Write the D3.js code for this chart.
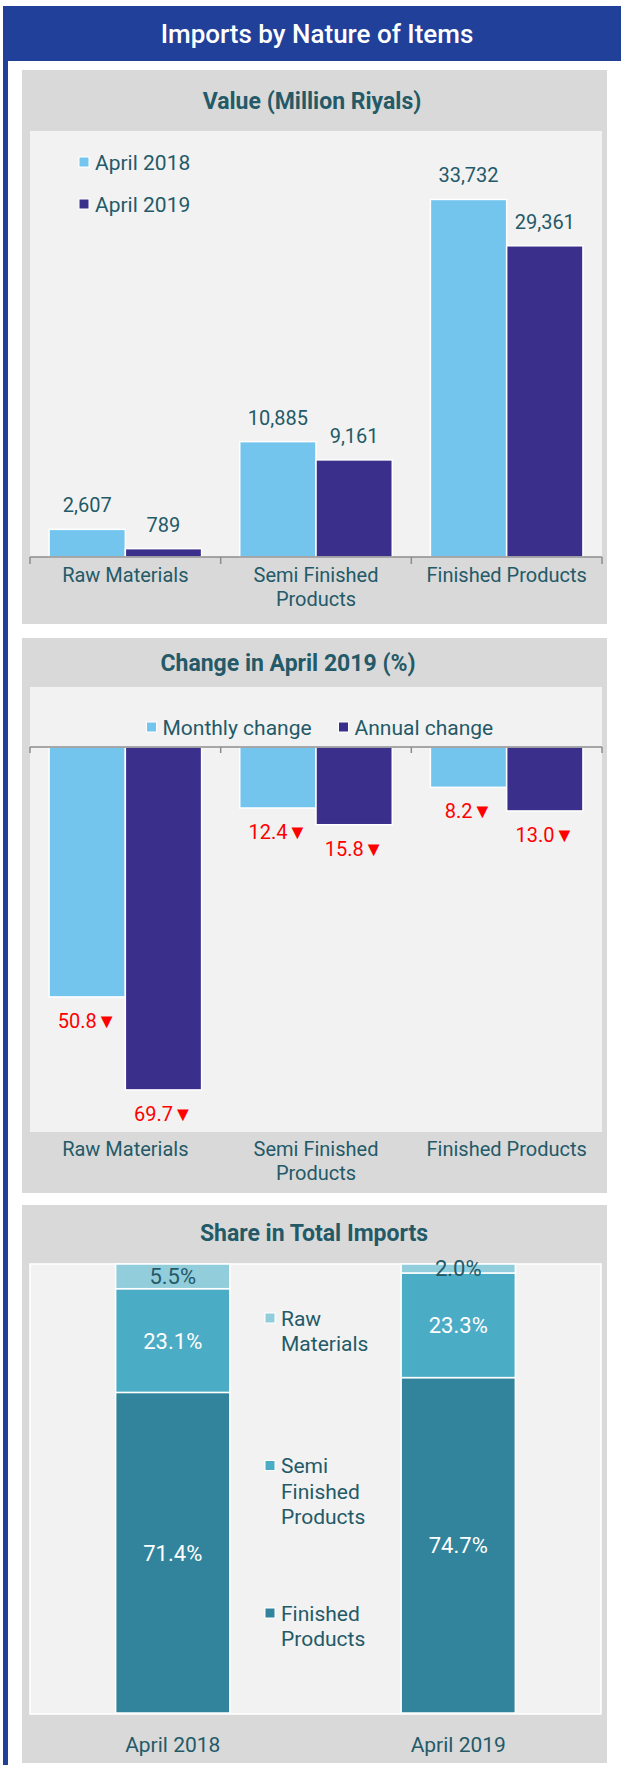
<!DOCTYPE html>
<html>
<head>
<meta charset="utf-8">
<script src="https://cdn.jsdelivr.net/npm/d3@7"></script>
<style>
  body { margin: 0; background: #fff; }
  svg { display: block; font-family: Roboto, "Noto Sans", sans-serif; }
</style>
</head>
<body>
<svg id="chart" width="621" height="1765"></svg>
<script>
// data
const categories = ["Raw Materials", "Semi Finished Products", "Finished Products"];
const value2018 = [2607, 10885, 33732];
const value2019 = [789, 9161, 29361];
const valueSeries = ["April 2018", "April 2019"];

const monthlyChange = [-50.8, -12.4, -8.2];
const annualChange = [-69.7, -15.8, -13.0];
const changeSeries = ["Monthly change", "Annual change"];

const shareYears = ["April 2018", "April 2019"];
const shareRaw = [5.5, 2.0];
const shareSemi = [23.1, 23.3];
const shareFinished = [71.4, 74.7];
const shareSeries = ["Raw Materials", "Semi Finished Products", "Finished Products"];

// colours
const blue = "#21409a";
const textCol = "#245a68";
const light = "#73c5ee";
const dark = "#3b2f8c";
const shareCol = ["#92cddc", "#4bacc6", "#31849b"];

const svg = d3.select("#chart");

// wrap text into tspans to fit a width
function wrap(text, maxW, lineH) {
    text.each(function () {
        const t = d3.select(this);
        const words = t.text().split(" ");
        const x = t.attr("x");
        t.text(null);
        let line = [];
        let tspan = t.append("tspan").attr("x", x).attr("dy", 0);
        words.forEach(w => {
            line.push(w);
            tspan.text(line.join(" "));
            if (tspan.node().getComputedTextLength() > maxW && line.length > 1) {
                line.pop();
                tspan.text(line.join(" "));
                line = [w];
                tspan = t.append("tspan").attr("x", x).attr("dy", lineH).text(w);
            }
        });
    });
}

// --------------------------------------------------------------
// frame + header
svg.append("rect").attr("x", 3).attr("y", 6).attr("width", 618).attr("height", 55).attr("fill", blue);
svg.append("rect").attr("x", 3).attr("y", 6).attr("width", 5).attr("height", 1759).attr("fill", blue);
svg.append("text")
    .attr("x", 317).attr("y", 43)
    .attr("text-anchor", "middle")
    .attr("fill", "#fff")
    .attr("font-size", 26)
    .attr("font-weight", 500)
    .text("Imports by Nature of Items");

function panel(y0, h, inner, title, tx, ty) {
    const g = svg.append("g");
    g.append("rect").attr("x", 22).attr("y", y0).attr("width", 585).attr("height", h).attr("fill", "#d9d9d9");
    g.append("rect").attr("class", "inner")
        .attr("x", inner.x).attr("y", inner.y).attr("width", inner.w).attr("height", inner.h)
        .attr("fill", "#f2f2f2");
    g.append("text")
        .attr("x", tx).attr("y", ty)
        .attr("text-anchor", "middle")
        .attr("fill", textCol)
        .attr("font-size", 23)
        .attr("font-weight", 700)
        .text(title);
    return g;
}

// --------------------------------------------------------------
// panel 1: value
{
    const g = panel(70, 554, { x: 30, y: 131, w: 572, h: 426 }, "Value (Million Riyals)", 312, 109);

    const x = d3.scaleBand().domain(categories).range([30, 602]);
    const xs = d3.scaleBand().domain(valueSeries).range([0, x.bandwidth()]).paddingOuter(0.25);
    const y = d3.scaleLinear().domain([0, 40000]).range([557, 133]);

    const rows = categories.map((c, i) => ({ cat: c, vals: [value2018[i], value2019[i]] }));

    const grp = g.selectAll("g.cat").data(rows).join("g")
        .attr("transform", d => `translate(${x(d.cat)},0)`);

    grp.selectAll("rect")
        .data(d => d.vals.map((v, j) => ({ s: valueSeries[j], v })))
        .join("rect")
        .attr("x", d => xs(d.s))
        .attr("y", d => y(d.v))
        .attr("width", xs.bandwidth())
        .attr("height", d => y(0) - y(d.v))
        .attr("fill", (d, j) => j === 0 ? light : dark)
        .attr("stroke", "#fff")
        .attr("stroke-width", 1.5);

    grp.selectAll("text")
        .data(d => d.vals.map((v, j) => ({ s: valueSeries[j], v })))
        .join("text")
        .attr("x", d => xs(d.s) + xs.bandwidth() / 2)
        .attr("y", d => y(d.v) - 17)
        .attr("text-anchor", "middle")
        .attr("fill", textCol)
        .attr("font-size", 20)
        .text(d => d3.format(",")(d.v));

    // axis
    const edges = categories.map(c => x(c)).concat([x.range()[1]]);
    g.append("line").attr("x1", 30).attr("x2", 602).attr("y1", 557).attr("y2", 557)
        .attr("stroke", "#8c8c8c").attr("stroke-width", 1.5);
    g.selectAll("line.tick").data(edges).join("line").attr("class", "tick")
        .attr("x1", d => d).attr("x2", d => d).attr("y1", 557).attr("y2", 564)
        .attr("stroke", "#8c8c8c").attr("stroke-width", 1.5);

    g.selectAll("text.cat").data(categories).join("text").attr("class", "cat")
        .attr("x", d => x(d) + x.bandwidth() / 2)
        .attr("y", 582)
        .attr("text-anchor", "middle")
        .attr("fill", textCol)
        .attr("font-size", 20)
        .text(d => d)
        .call(wrap, 175, 24);

    // legend
    const lg = g.selectAll("g.leg").data(valueSeries).join("g").attr("class", "leg")
        .attr("transform", (d, i) => `translate(79,${162 + i * 42})`);
    lg.append("rect").attr("x", 0).attr("y", -5).attr("width", 10).attr("height", 10)
        .attr("fill", (d, i) => i === 0 ? light : dark).attr("stroke", "#fff").attr("stroke-width", 1);
    lg.append("text").attr("x", 16).attr("y", 7.5)
        .attr("fill", textCol).attr("font-size", 21).text(d => d);
}

// --------------------------------------------------------------
// panel 2: change
{
    const g = panel(638, 555, { x: 30, y: 687, w: 572, h: 445 }, "Change in April 2019 (%)", 288, 671);

    const x = d3.scaleBand().domain(categories).range([30, 602]);
    const xs = d3.scaleBand().domain(changeSeries).range([0, x.bandwidth()]).paddingOuter(0.25);
    const y = d3.scaleLinear().domain([0, -80]).range([747, 1140.6]);

    const rows = categories.map((c, i) => ({ cat: c, vals: [monthlyChange[i], annualChange[i]] }));

    const grp = g.selectAll("g.cat").data(rows).join("g")
        .attr("transform", d => `translate(${x(d.cat)},0)`);

    grp.selectAll("rect")
        .data(d => d.vals.map((v, j) => ({ s: changeSeries[j], v })))
        .join("rect")
        .attr("x", d => xs(d.s))
        .attr("y", y(0))
        .attr("width", xs.bandwidth())
        .attr("height", d => y(d.v) - y(0))
        .attr("fill", (d, j) => j === 0 ? light : dark)
        .attr("stroke", "#fff")
        .attr("stroke-width", 1.5);

    grp.selectAll("text")
        .data(d => d.vals.map((v, j) => ({ s: changeSeries[j], v })))
        .join("text")
        .attr("x", d => xs(d.s) + xs.bandwidth() / 2)
        .attr("y", d => y(d.v) + 31)
        .attr("text-anchor", "middle")
        .attr("fill", "#ff0000")
        .attr("font-size", 20)
        .text(d => d3.format(".1f")(Math.abs(d.v)) + "\u25BC");

    const edges = categories.map(c => x(c)).concat([x.range()[1]]);
    g.append("line").attr("x1", 30).attr("x2", 602).attr("y1", 747).attr("y2", 747)
        .attr("stroke", "#8c8c8c").attr("stroke-width", 1.5);
    g.selectAll("line.tick").data(edges).join("line").attr("class", "tick")
        .attr("x1", d => d).attr("x2", d => d).attr("y1", 747).attr("y2", 753)
        .attr("stroke", "#8c8c8c").attr("stroke-width", 1.5);

    g.selectAll("text.cat").data(categories).join("text").attr("class", "cat")
        .attr("x", d => x(d) + x.bandwidth() / 2)
        .attr("y", 1156)
        .attr("text-anchor", "middle")
        .attr("fill", textCol)
        .attr("font-size", 20)
        .text(d => d)
        .call(wrap, 175, 24);

    // legend
    const legX = [146.5, 338.5];
    const lg = g.selectAll("g.leg").data(changeSeries).join("g").attr("class", "leg")
        .attr("transform", (d, i) => `translate(${legX[i]},727)`);
    lg.append("rect").attr("x", 0).attr("y", -5).attr("width", 10).attr("height", 10)
        .attr("fill", (d, i) => i === 0 ? light : dark).attr("stroke", "#fff").attr("stroke-width", 1);
    lg.append("text").attr("x", 16).attr("y", 7.5)
        .attr("fill", textCol).attr("font-size", 21).text(d => d);
}

// --------------------------------------------------------------
// panel 3: share
{
    const g = panel(1205, 558, { x: 30, y: 1264, w: 571, h: 450 }, "Share in Total Imports", 314, 1241);
    g.select("rect.inner").attr("stroke", "#fff").attr("stroke-width", 1.5);

    const x = d3.scaleBand().domain(shareYears).range([30, 601]).paddingInner(0.6).paddingOuter(0.3);
    const y = d3.scaleLinear().domain([0, 100]).range([1713, 1264]);

    const table = shareYears.map((yr, i) => ({
        year: yr, raw: shareRaw[i], semi: shareSemi[i], fin: shareFinished[i]
    }));
    const stack = d3.stack().keys(["fin", "semi", "raw"])(table);
    const colOf = { raw: shareCol[0], semi: shareCol[1], fin: shareCol[2] };

    const layer = g.selectAll("g.layer").data(stack).join("g").attr("class", "layer")
        .attr("fill", d => colOf[d.key]);

    layer.selectAll("rect").data(d => d).join("rect")
        .attr("x", d => x(d.data.year))
        .attr("y", d => y(d[1]))
        .attr("width", x.bandwidth())
        .attr("height", d => y(d[0]) - y(d[1]))
        .attr("stroke", "#fff")
        .attr("stroke-width", 1.5);

    layer.selectAll("text").data(d => d.map(p => ({ p, key: d.key }))).join("text")
        .attr("x", d => x(d.p.data.year) + x.bandwidth() / 2)
        .attr("y", d => (y(d.p[0]) + y(d.p[1])) / 2 + 8)
        .attr("text-anchor", "middle")
        .attr("fill", d => d.key === "raw" ? textCol : "#fff")
        .attr("font-size", 22)
        .text(d => d3.format(".1f")(d.p.data[d.key]) + "%");

    g.selectAll("text.cat").data(shareYears).join("text").attr("class", "cat")
        .attr("x", d => x(d) + x.bandwidth() / 2)
        .attr("y", 1752)
        .attr("text-anchor", "middle")
        .attr("fill", textCol)
        .attr("font-size", 21)
        .text(d => d);

    // legend
    const lg = g.selectAll("g.leg").data(shareSeries).join("g").attr("class", "leg")
        .attr("transform", (d, i) => `translate(265,${1318 + i * 147.5})`);
    lg.append("rect").attr("x", 0).attr("y", -5).attr("width", 10).attr("height", 10)
        .attr("fill", (d, i) => shareCol[i]).attr("stroke", "#fff").attr("stroke-width", 1);
    lg.append("text").attr("x", 16).attr("y", 7.5)
        .attr("fill", textCol).attr("font-size", 21).text(d => d)
        .call(wrap, 90, 25.5);
}
</script>
</body>
</html>
